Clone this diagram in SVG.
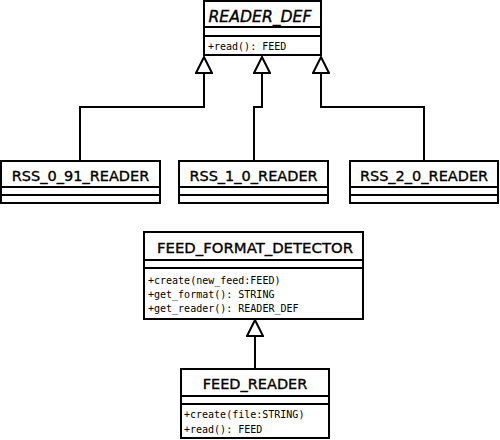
<svg xmlns="http://www.w3.org/2000/svg" width="500" height="440" viewBox="0 0 500 440">
<style>
.box{fill:#fff;stroke:#000;stroke-width:2}
.div{stroke:#000;stroke-width:2}
.title{font-family:"DejaVu Sans",sans-serif;font-size:14.5px;text-anchor:middle;fill:#000;stroke:#000;stroke-width:0.35}
.abstract{font-style:italic;font-size:15px}
.mem{font-family:"DejaVu Sans Mono",monospace;font-size:10px;fill:#000}
.conn{fill:none;stroke:#000;stroke-width:2}
</style>
<defs>
<marker id="gen" markerUnits="userSpaceOnUse" viewBox="-1 -1 18 18" markerWidth="18" markerHeight="18" refX="16" refY="8" orient="auto-start-reverse">
<path d="M0,0 L16,8 L0,16 Z" fill="#fff" stroke="#000" stroke-width="2" stroke-linejoin="miter"/>
</marker>
</defs>
<g id="connectors">
<path class="conn" marker-start="url(#gen)" d="M204,57 V107 H80 V161"/>
<path class="conn" marker-start="url(#gen)" d="M262,57 V107 H254 V161"/>
<path class="conn" marker-start="url(#gen)" d="M321,57 V107 H424 V161"/>
<path class="conn" marker-start="url(#gen)" d="M255,320 V369"/>
</g>
<g id="READER_DEF">
<rect class="box" x="204" y="1" width="117" height="54"/>
<line class="div" x1="204" y1="27" x2="321" y2="27"/>
<line class="div" x1="204" y1="36" x2="321" y2="36"/>
<text class="title abstract" x="260" y="21.5" textLength="103" lengthAdjust="spacingAndGlyphs">READER_DEF</text>
<text class="mem" x="208" y="50">+read(): FEED</text>
</g>
<g id="RSS_0_91_READER">
<rect class="box" x="1" y="161" width="159" height="42"/>
<line class="div" x1="1" y1="187" x2="160" y2="187"/>
<line class="div" x1="1" y1="195" x2="160" y2="195"/>
<text class="title" x="80.5" y="181">RSS_0_91_READER</text>
</g>
<g id="RSS_1_0_READER">
<rect class="box" x="179" y="161" width="149" height="42"/>
<line class="div" x1="179" y1="187" x2="328" y2="187"/>
<line class="div" x1="179" y1="195" x2="328" y2="195"/>
<text class="title" x="253.5" y="181">RSS_1_0_READER</text>
</g>
<g id="RSS_2_0_READER">
<rect class="box" x="350" y="161" width="148" height="42"/>
<line class="div" x1="350" y1="187" x2="498" y2="187"/>
<line class="div" x1="350" y1="195" x2="498" y2="195"/>
<text class="title" x="424" y="181">RSS_2_0_READER</text>
</g>
<g id="FEED_FORMAT_DETECTOR">
<rect class="box" x="144" y="232" width="219" height="87"/>
<line class="div" x1="144" y1="260" x2="363" y2="260"/>
<line class="div" x1="144" y1="268" x2="363" y2="268"/>
<text class="title" x="255" y="253" textLength="196" lengthAdjust="spacingAndGlyphs">FEED_FORMAT_DETECTOR</text>
<text class="mem" x="148" y="283.5">+create(new_feed:FEED)</text>
<text class="mem" x="148" y="297.5">+get_format(): STRING</text>
<text class="mem" x="148" y="311.5">+get_reader(): READER_DEF</text>
</g>
<g id="FEED_READER">
<rect class="box" x="181" y="369" width="148" height="69"/>
<line class="div" x1="181" y1="396" x2="329" y2="396"/>
<line class="div" x1="181" y1="404" x2="329" y2="404"/>
<text class="title" x="255" y="389">FEED_READER</text>
<text class="mem" x="184" y="418">+create(file:STRING)</text>
<text class="mem" x="184" y="433">+read(): FEED</text>
</g>
</svg>
